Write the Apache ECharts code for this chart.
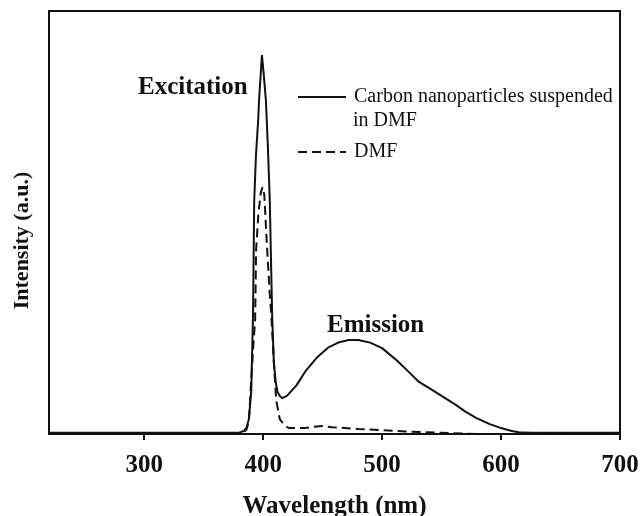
<!DOCTYPE html>
<html>
<head>
<meta charset="utf-8">
<script src="https://cdn.jsdelivr.net/npm/echarts@6/dist/echarts.min.js"></script>
<style>
  html, body { margin: 0; padding: 0; background: #fff; }
  #main { width: 640px; height: 516px; }
</style>
</head>
<body>
<div id="main"></div>
<script>
// carbon nanoparticles in DMF (solid line)
var cnpWl = [220, 300, 380, 384, 386, 388, 390, 391.5, 392.5, 394, 395.8, 396.6, 399, 400.5, 402.3, 404, 405.6, 407.6, 409, 410.5, 412, 414, 416, 420, 428, 436, 445, 455, 464, 472, 480, 490, 500, 512, 522, 531, 540, 550, 562, 570, 579, 590, 600, 609, 615, 625, 700];
var cnpInt = [0.3, 0.3, 0.3, 0.8, 1.5, 3.5, 10, 28, 55, 66, 74, 79, 89.6, 85, 79, 68, 55, 28, 17, 12.5, 10, 9, 8.5, 9, 11.5, 15, 18, 20.5, 21.7, 22.2, 22.2, 21.6, 20.3, 17.5, 14.8, 12.3, 10.8, 9, 6.9, 5.3, 3.8, 2.4, 1.4, 0.7, 0.4, 0.3, 0.3];
// DMF (dashed line)
var dmfWl = [220, 300, 382, 386, 388, 390, 392, 393.3, 394.1, 396, 398, 399.5, 401, 403.4, 405.9, 406.7, 409, 411, 414, 418, 422, 435, 445, 450, 458, 480, 500, 520, 550, 580, 700];
var dmfInt = [0, 0, 0, 1, 3, 12.8, 22, 27, 43.5, 52, 57, 58.4, 56.5, 43.5, 31.7, 29, 17, 8, 3.5, 2, 1.4, 1.4, 1.8, 1.9, 1.6, 1.2, 0.9, 0.6, 0.3, 0, 0];
var tickValues = [300, 400, 500, 600, 700];
var seriesNames = ['Carbon nanoparticles suspended', 'DMF'];

function pairs(xs, ys) {
    var out = [];
    for (var i = 0; i < xs.length; i++) {
        out.push([xs[i], ys[i]]);
    }
    return out;
}

var serif = 'Liberation Serif';
var chart = echarts.init(document.getElementById('main'));

var legendText = { fontFamily: serif, fontSize: 20, color: '#111', padding: [0, 0, 0, 3] };

var option = {
    backgroundColor: '#fff',
    animation: false,
    grid: {
        left: 49, top: 11, right: 20, bottom: 82,
        outerBoundsMode: 'none',
        show: true, borderColor: '#111', borderWidth: 2
    },
    legend: [
        {
            orient: 'vertical', left: 292, top: 82,
            itemWidth: 48, itemHeight: 14,
            itemStyle: { opacity: 0 },
            data: [seriesNames[0]],
            textStyle: legendText
        },
        {
            orient: 'vertical', left: 292, top: 137,
            itemWidth: 48, itemHeight: 14,
            itemStyle: { opacity: 0 },
            data: [seriesNames[1]],
            textStyle: legendText
        }
    ],
    xAxis: {
        type: 'value', min: 220, max: 700,
        name: 'Wavelength (nm)', nameLocation: 'middle', nameGap: 60,
        nameTextStyle: { fontFamily: serif, fontSize: 25, fontWeight: 'bold', color: '#111' },
        axisLine: { lineStyle: { color: '#111', width: 2 } },
        axisTick: { show: true, inside: false, length: 6, customValues: tickValues, lineStyle: { color: '#111', width: 2 } },
        axisLabel: { customValues: tickValues, margin: 19, fontFamily: serif, fontSize: 25, fontWeight: 'bold', color: '#111' },
        splitLine: { show: false }
    },
    yAxis: {
        type: 'value', min: 0, max: 100,
        name: 'Intensity (a.u.)', nameLocation: 'middle', nameGap: 16,
        nameTextStyle: { fontFamily: serif, fontSize: 22, fontWeight: 'bold', color: '#111', padding: [0, 36, 0, 0] },
        axisLine: { show: true, lineStyle: { color: '#111', width: 2 } },
        axisTick: { show: false },
        axisLabel: { show: false },
        splitLine: { show: false }
    },
    graphic: [
        { type: 'text', left: 138, top: 75, style: { text: 'Excitation', fontFamily: serif, fontSize: 25, fontWeight: 'bold', fill: '#111' } },
        { type: 'text', left: 327, top: 313, style: { text: 'Emission', fontFamily: serif, fontSize: 25, fontWeight: 'bold', fill: '#111' } },
        { type: 'text', left: 353, top: 111, style: { text: 'in DMF', fontFamily: serif, fontSize: 20, fill: '#111' } }
    ],
    series: [
        {
            name: seriesNames[0], type: 'line', symbol: 'none',
            data: pairs(cnpWl, cnpInt),
            itemStyle: { color: '#111' },
            lineStyle: { color: '#111', width: 2 }
        },
        {
            name: seriesNames[1], type: 'line', symbol: 'none',
            data: pairs(dmfWl, dmfInt),
            itemStyle: { color: '#111' },
            lineStyle: { color: '#111', width: 2, type: [9, 5] }
        }
    ]
};
chart.setOption(option);
</script>
</body>
</html>
